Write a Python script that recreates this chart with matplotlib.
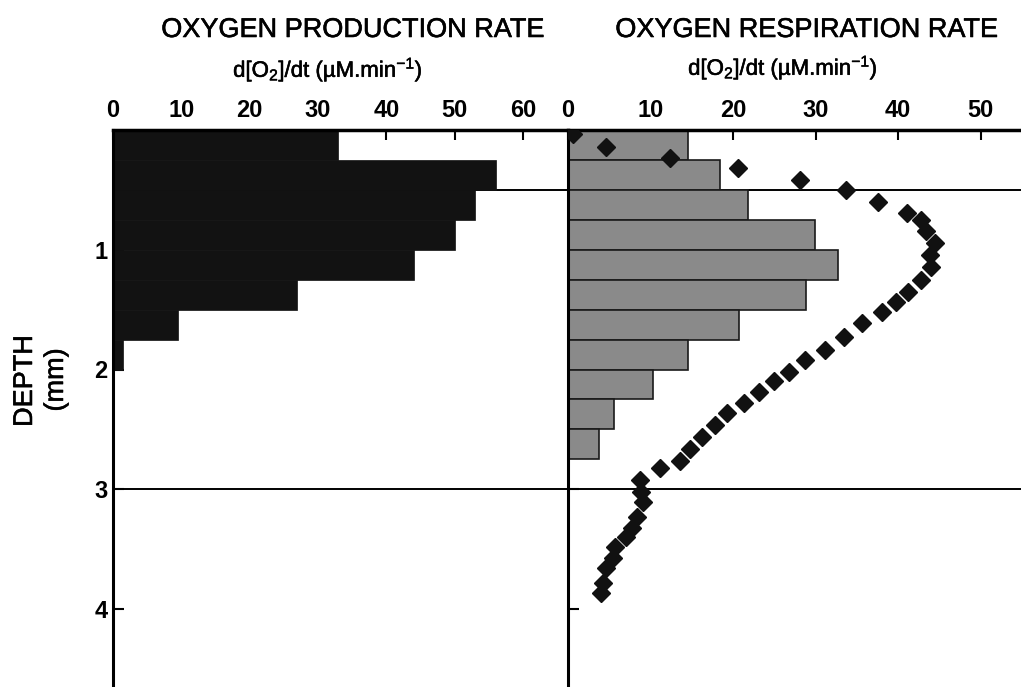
import numpy as np
import matplotlib
matplotlib.use("Agg")
import matplotlib.pyplot as plt
import matplotlib.patheffects as pe

plt.rcParams["font.family"] = ["Liberation Sans", "DejaVu Sans"]
plt.rcParams["mathtext.fontset"] = "custom"
plt.rcParams["mathtext.rm"] = "Liberation Sans"
plt.rcParams["mathtext.it"] = "Liberation Sans:italic"

# Oxygen production (left panel), 0.25 mm layers
prod_depth = [0.0, 0.25, 0.5, 0.75, 1.0, 1.25, 1.5, 1.75]
prod_rate = [33, 56, 53, 50, 44, 27, 9.5, 1.5]

# Oxygen respiration (right panel), 0.25 mm layers
resp_depth = [0.0, 0.25, 0.5, 0.75, 1.0, 1.25, 1.5, 1.75, 2.0, 2.25, 2.5]
resp_rate = [14.5, 18.4, 21.8, 29.9, 32.7, 28.8, 20.7, 14.6, 10.3, 5.6, 3.8]

# Respiration profile (diamonds)
prof_x = [0.6, 4.6, 12.4, 20.6, 28.1, 33.7, 37.6, 41.1, 42.8, 43.4, 44.5,
          43.9, 44.0, 42.8, 41.2, 39.8, 38.0, 35.6, 33.4, 31.1, 28.7, 26.8,
          25.0, 23.1, 21.3, 19.3, 17.8, 16.2, 14.8, 13.6, 11.2, 8.7, 8.9,
          9.1, 8.4, 7.8, 7.0, 5.7, 5.5, 4.6, 4.2, 4.0]
prof_depth = [0.03, 0.14, 0.23, 0.32, 0.42, 0.50, 0.60, 0.69, 0.75, 0.84,
              0.94, 1.04, 1.14, 1.25, 1.35, 1.44, 1.52, 1.61, 1.73, 1.84,
              1.92, 2.02, 2.10, 2.19, 2.28, 2.36, 2.46, 2.56, 2.66, 2.76,
              2.82, 2.92, 3.02, 3.11, 3.23, 3.32, 3.40, 3.48, 3.57, 3.66,
              3.78, 3.87]

layer = 0.25
depth_ticks = [1, 2, 3, 4]
ref_depths = [0.5, 3.0]

fig = plt.figure(figsize=(10.21, 6.87), dpi=100)
ax1 = fig.add_axes([113 / 1021, 0, 455 / 1021, 557 / 687])
ax2 = fig.add_axes([568 / 1021, 0, 453 / 1021, 557 / 687])

ymax = 557 / 119.75
heavy = [pe.withStroke(linewidth=0.4, foreground="black")]

# left: production
for d in ref_depths:
    ax1.axhline(d, color="black", lw=1.4, zorder=1)
ax1.barh(prod_depth, prod_rate, height=layer, align="edge",
         color="#121212", edgecolor="#121212", lw=0.5, zorder=2)
ax1.set_xlim(0, 66.6)
ax1.set_ylim(ymax, 0)
ax1.set_xticks(range(0, 70, 10))
ax1.set_yticks(depth_ticks)

# right: respiration
for d in ref_depths:
    ax2.axhline(d, color="black", lw=1.4, zorder=1)
ax2.barh(resp_depth, resp_rate, height=layer, align="edge",
         color="#8a8a8a", edgecolor="#1a1a1a", lw=1.2, zorder=2)
ax2.plot(prof_x, prof_depth, "D", color="#111111", ms=9, zorder=3)
ax2.set_xlim(0, 54.9)
ax2.set_ylim(ymax, 0)
ax2.set_xticks(range(0, 60, 10))
ax2.set_yticks(depth_ticks)
ax2.set_yticklabels([])

for ax in (ax1, ax2):
    ax.xaxis.tick_top()
    ax.spines["bottom"].set_visible(False)
    ax.spines["right"].set_visible(False)
    ax.spines["top"].set_linewidth(2.5)
    ax.spines["left"].set_linewidth(2.2)
    ax.tick_params(axis="x", direction="in", length=7, width=1.5,
                   labelsize=17, pad=6)
    ax.tick_params(axis="y", direction="in", length=8, width=1.5,
                   labelsize=17, pad=4)
    for lab in ax.get_xticklabels() + ax.get_yticklabels():
        lab.set_fontweight("bold")
    ax.set_facecolor("none")

fig.text(353 / 1021, 1 - 30 / 687, "OXYGEN PRODUCTION RATE",
         ha="center", va="center", fontsize=19.5, path_effects=heavy)
fig.text(807 / 1021, 1 - 30 / 687, "OXYGEN RESPIRATION RATE",
         ha="center", va="center", fontsize=19.5, path_effects=heavy)
sub = r"d[O$_2$]/dt (µM.min$^{-1}$)"
fig.text(328 / 1021, 1 - 70 / 687, sub, ha="center", va="center",
         fontsize=16, path_effects=heavy)
fig.text(783 / 1021, 1 - 68 / 687, sub, ha="center", va="center",
         fontsize=16, path_effects=heavy)

fig.text(25 / 1021, 1 - 381 / 687, "DEPTH", rotation=90,
         ha="center", va="center", fontsize=19.5, path_effects=heavy)
fig.text(56 / 1021, 1 - 380 / 687, "(mm)", rotation=90,
         ha="center", va="center", fontsize=19.5, path_effects=heavy)

fig.savefig("out.png", dpi=100)
